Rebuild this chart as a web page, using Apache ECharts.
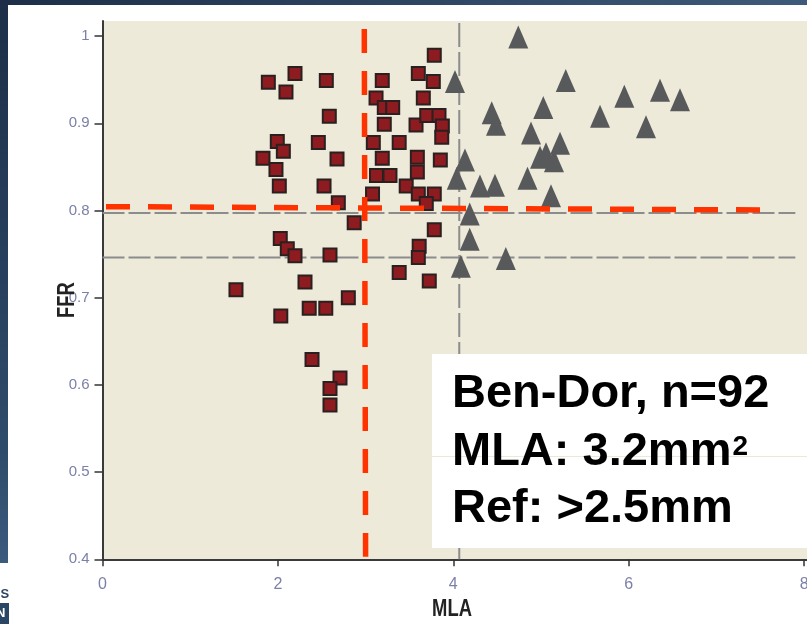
<!DOCTYPE html>
<html>
<head>
<meta charset="utf-8">
<script src="https://cdn.jsdelivr.net/npm/echarts@6/dist/echarts.min.js"></script>
<style>
html,body{margin:0;padding:0;background:#fff;}
#chart{width:807px;height:624px;}
</style>
</head>
<body>
<div id="chart"></div>
<script>
// ---- data (MLA, FFR) ----
const squarePoints = [
  [1.891,0.947],[2.195,0.957],[2.092,0.936],[2.552,0.949],[3.190,0.949],
  [3.783,0.978],[3.601,0.957],[3.772,0.948],[3.119,0.929],[3.658,0.929],
  [3.213,0.918],[3.309,0.918],[2.586,0.908],[3.213,0.899],[3.575,0.898],
  [3.697,0.909],[3.837,0.909],[3.875,0.897],[3.868,0.884],[1.993,0.879],
  [2.062,0.868],[1.830,0.860],[1.978,0.847],[2.016,0.828],[2.461,0.878],
  [2.674,0.859],[3.088,0.878],[3.383,0.878],[3.190,0.860],[3.590,0.861],
  [3.852,0.858],[3.124,0.840],[3.278,0.840],[3.590,0.844],[2.526,0.828],
  [2.689,0.809],[3.079,0.819],[3.463,0.828],[3.601,0.819],[3.783,0.819],
  [3.692,0.808],[2.870,0.786],[2.027,0.768],[2.107,0.756],[2.195,0.748],
  [2.594,0.749],[3.783,0.778],[3.611,0.759],[3.601,0.746],[3.383,0.729],
  [3.726,0.719],[2.309,0.718],[2.803,0.700],[2.357,0.688],[2.546,0.688],
  [2.033,0.679],[1.522,0.709],[2.389,0.629],[2.708,0.608],[2.594,0.596],
  [2.594,0.577]
];
const trianglePoints = [
  [4.741,0.999],[4.019,0.948],[5.282,0.949],[4.438,0.912],[4.487,0.899],
  [5.026,0.918],[5.950,0.931],[6.357,0.938],[6.585,0.927],[5.673,0.908],
  [6.197,0.896],[4.886,0.889],[5.217,0.877],[4.989,0.861],[5.057,0.865],
  [5.148,0.857],[4.846,0.837],[5.114,0.817],[4.133,0.858],[4.039,0.837],
  [4.304,0.828],[4.475,0.829],[4.187,0.796],[4.187,0.767],[4.086,0.736],
  [4.599,0.745]
];
// reference lines
const grayFFRLines = [0.797, 0.746];
const grayLineMLARange = [0, 7.9];
const grayMLALine = 4.068;
const grayLineFFRRange = [0.4, 1.015];
const redCutoffH = [[0.04, 0.8044], [7.5, 0.8006]];
const redCutoffV = [[2.985, 1.008], [3.0, 0.403]];
// axis ticks
const xTicks = [0, 2, 4, 6, 8];
const yTicks = [0.4, 0.5, 0.6, 0.7, 0.8, 0.9, 1];
const annotationLines = ['Ben-Dor, n=92', 'MLA: 3.2mm', 'Ref: >2.5mm'];
const annotationSup = '2';
const xName = 'MLA';
const yName = 'FFR';

const sans = '"Liberation Sans",Arial,sans-serif';
const boxFont = 'bold 47px ' + sans;
const supFont = 'bold 28px ' + sans;
const chart = echarts.init(document.getElementById('chart'), null, {renderer: 'canvas'});

const ctx = document.createElement('canvas').getContext('2d');
ctx.font = boxFont;
const line2Width = ctx.measureText(annotationLines[1]).width;

const series = [];
grayFFRLines.forEach(v => {
  series.push({
    type: 'line', silent: true, showSymbol: false, symbol: 'none', z: 1,
    data: [[grayLineMLARange[0], v], [grayLineMLARange[1], v]],
    lineStyle: {color: '#8c8c8c', width: 2, type: [22, 4]}
  });
});
series.push({
  type: 'line', silent: true, showSymbol: false, symbol: 'none', z: 1,
  data: [[grayMLALine, grayLineFFRRange[1]], [grayMLALine, grayLineFFRRange[0]]],
  lineStyle: {color: '#8c8c8c', width: 2, type: [24, 5]}
});
series.push({
  type: 'scatter', symbol: 'rect', symbolSize: 13, z: 3,
  data: squarePoints,
  itemStyle: {color: '#8d1b1f', borderColor: '#2a2020', borderWidth: 2, opacity: 1}
});
series.push({
  type: 'scatter', symbol: 'triangle', symbolSize: [20, 23], z: 3,
  data: trianglePoints,
  itemStyle: {color: '#58595b', opacity: 1}
});
[redCutoffH, redCutoffV].forEach(seg => {
  series.push({
    type: 'line', silent: true, showSymbol: false, symbol: 'none', z: 5,
    data: seg,
    lineStyle: {color: '#ff3300', width: 5.5, type: [24, 18]}
  });
});

chart.setOption({
  animation: false,
  backgroundColor: '#ffffff',
  grid: {left: 102.5, right: 0, top: 21, bottom: 64.7, show: true,
         backgroundColor: '#edeada', borderWidth: 0,
         outerBoundsMode: 'none', containLabel: false},
  xAxis: {
    type: 'value', min: 0, max: 8.033,
    axisLine: {lineStyle: {color: '#3a3a3a', width: 2}},
    axisTick: {show: true, length: 7, customValues: xTicks, lineStyle: {color: '#333', width: 1.5}},
    axisLabel: {customValues: xTicks, margin: 17, fontFamily: sans, fontSize: 16, color: '#7b80a8'},
    splitLine: {show: false}
  },
  yAxis: {
    type: 'value', min: 0.4, max: 1.0173,
    axisLine: {show: true, lineStyle: {color: '#3a3a3a', width: 2}},
    axisTick: {show: true, length: 8, customValues: yTicks, lineStyle: {color: '#333', width: 1.5}},
    axisLabel: {customValues: yTicks, margin: 13, fontFamily: sans, fontSize: 15, color: '#7b80a8'},
    splitLine: {show: false}
  },
  series: series,
  graphic: [
    {type: 'rect', z: 50, shape: {x: 0, y: 0, width: 807, height: 5},
     style: {fill: new echarts.graphic.LinearGradient(0, 0, 1, 0, [
       {offset: 0, color: '#1d2f48'}, {offset: 1, color: '#3e5a7a'}])}},
    {type: 'rect', z: 50, shape: {x: 0, y: 0, width: 8, height: 563},
     style: {fill: new echarts.graphic.LinearGradient(0, 0, 0, 1, [
       {offset: 0, color: '#1d2f48'}, {offset: 0.8, color: '#2f4b6b'}, {offset: 1, color: '#3c5b7d'}])}},
    {type: 'text', z: 51, x: -9, y: 594,
     style: {text: 'AS', fill: '#2b4565', font: 'bold 13px ' + sans, verticalAlign: 'middle'}},
    {type: 'rect', z: 50, shape: {x: 0, y: 603, width: 9, height: 21}, style: {fill: '#2b4565'}},
    {type: 'text', z: 51, x: -4, y: 613,
     style: {text: 'N', fill: '#ffffff', font: 'bold 13px ' + sans, verticalAlign: 'middle'}},
    {type: 'text', z: 20, x: 452, y: 610, scaleX: 0.8,
     style: {text: xName, fill: '#222', font: 'bold 23px ' + sans, align: 'center', verticalAlign: 'middle'}},
    {type: 'text', z: 20, x: 68, y: 300, rotation: Math.PI / 2, scaleX: 0.8,
     style: {text: yName, fill: '#222', font: 'bold 23px ' + sans, align: 'center', verticalAlign: 'middle'}},
    {type: 'rect', z: 40, shape: {x: 432, y: 354, width: 380, height: 194}, style: {fill: '#ffffff'}},
    {type: 'line', z: 41, shape: {x1: 432, y1: 456.5, x2: 807, y2: 456.5}, style: {stroke: '#ece8d6', lineWidth: 1}},
    {type: 'text', z: 42, x: 452, y: 394,
     style: {text: annotationLines[0], fill: '#000', font: boxFont, verticalAlign: 'middle'}},
    {type: 'text', z: 42, x: 452, y: 452,
     style: {text: annotationLines[1], fill: '#000', font: boxFont, verticalAlign: 'middle'}},
    {type: 'text', z: 42, x: 452 + line2Width + 1, y: 447,
     style: {text: annotationSup, fill: '#000', font: supFont, verticalAlign: 'middle'}},
    {type: 'text', z: 42, x: 452, y: 509,
     style: {text: annotationLines[2], fill: '#000', font: boxFont, verticalAlign: 'middle'}}
  ]
});
</script>
</body>
</html>
